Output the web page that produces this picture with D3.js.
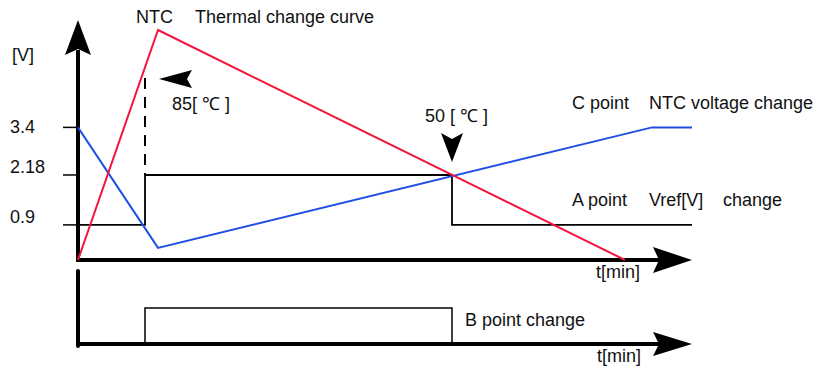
<!DOCTYPE html>
<html>
<head>
<meta charset="utf-8">
<script src="https://cdn.jsdelivr.net/npm/d3@7"></script>
<style>
  html, body { margin: 0; padding: 0; background: #fff; }
  svg text { font-family: "Liberation Sans", Arial, sans-serif; font-size: 18px; fill: #111; }
</style>
</head>
<body>
<svg id="chart" width="820" height="369"></svg>
<script>
// time in minutes, voltage in V, temperature in deg C
var voltTicks = [3.4, 2.18, 0.9];
var voltTickLabels = ['3.4', '2.18', '0.9'];

var ntcTemp = [[0, 0], [8.0, 135], [54.7, 0]];                 // red curve
var ntcVolt = [[0, 3.4], [8.0, 0.31], [57.4, 3.4], [61.4, 3.4]]; // C point
var vrefA = [[0, 0.9], [6.7, 0.9], [6.7, 2.18], [37.4, 2.18], [37.4, 0.9], [61.4, 0.9]];
var pointB = [[0, 0], [6.7, 0], [6.7, 1], [37.4, 1], [37.4, 0]];

var switchOn = 6.7;   // 85 C trip
var switchOff = 37.4; // 50 C trip

var svg = d3.select('#chart');
var red = '#f0173f';
var blue = '#1f4fe3';

var x = d3.scaleLinear().domain([0, 61.4]).range([78, 692]);
var yV = d3.scaleLinear().domain([0, 6]).range([260, 26]);
var yT = d3.scaleLinear().domain([0, 135]).range([260, 30]);
var yB = d3.scaleLinear().domain([0, 1]).range([344, 308]);

function arrowUp(cx, tip, back, half, notch) {
    return 'M' + cx + ',' + tip + 'L' + (cx + half) + ',' + back +
        'L' + cx + ',' + notch + 'L' + (cx - half) + ',' + back + 'Z';
}
function arrowRight(cy, tip, back, half, notch) {
    return 'M' + tip + ',' + cy + 'L' + back + ',' + (cy - half) +
        'L' + notch + ',' + cy + 'L' + back + ',' + (cy + half) + 'Z';
}

// top axes
svg.append('line')
    .attr('x1', x(0)).attr('x2', x(0))
    .attr('y1', yV(0) + 2).attr('y2', 50)
    .attr('stroke', '#000').attr('stroke-width', 4);
svg.append('path').attr('d', arrowUp(x(0), 20, 55, 13, 49)).attr('fill', '#000');
svg.append('line')
    .attr('x1', x(0) - 2).attr('x2', 660)
    .attr('y1', yV(0)).attr('y2', yV(0))
    .attr('stroke', '#000').attr('stroke-width', 4);
svg.append('path').attr('d', arrowRight(yV(0), x(61.4), 653, 13, 659)).attr('fill', '#000');

// y ticks
svg.selectAll('.vtick').data(voltTicks).enter().append('line')
    .attr('x1', 63).attr('x2', x(0))
    .attr('y1', function(d) { return yV(d); })
    .attr('y2', function(d) { return yV(d); })
    .attr('stroke', '#000').attr('stroke-width', 1.5);
svg.selectAll('.vlabel').data(voltTicks).enter().append('text')
    .attr('x', 10)
    .attr('y', function(d, i) { return yV(d) + (i === 0 ? 6 : -2); })
    .text(function(d, i) { return voltTickLabels[i]; });
svg.append('text').attr('x', 12).attr('y', 61).text('[V]');
svg.append('text').attr('x', 596).attr('y', 278).text('t[min]');

// dashed 85 C marker
svg.append('line')
    .attr('x1', x(switchOn)).attr('x2', x(switchOn))
    .attr('y1', 78).attr('y2', yV(2.18))
    .attr('stroke', '#000').attr('stroke-width', 2)
    .attr('stroke-dasharray', '11,8');

var line = d3.line()
    .x(function(d) { return x(d[0]); })
    .y(function(d) { return yV(d[1]); });

svg.append('path').datum(vrefA).attr('d', line)
    .attr('fill', 'none').attr('stroke', '#000').attr('stroke-width', 1.8);

svg.append('path').datum(ntcVolt).attr('d', line)
    .attr('fill', 'none').attr('stroke', blue).attr('stroke-width', 2);

svg.append('path').datum(ntcTemp)
    .attr('d', d3.line().x(function(d) { return x(d[0]); }).y(function(d) { return yT(d[1]); }))
    .attr('fill', 'none').attr('stroke', red).attr('stroke-width', 2);

// annotations
svg.append('path')
    .attr('d', 'M159,79L192,70L187,79L192,88Z').attr('fill', '#000');
svg.append('text').attr('x', 172).attr('y', 110).text('85[ \u2103 ]');

var cx = x(switchOff);
svg.append('path')
    .attr('d', 'M' + cx + ',' + 162 + 'L' + (cx + 11) + ',133L' + cx + ',139L' + (cx - 11) + ',133Z')
    .attr('fill', '#000');
svg.append('text').attr('x', 425).attr('y', 122).text('50 [ \u2103 ]');

svg.append('text').attr('x', 136).attr('y', 23).text('NTC');
svg.append('text').attr('x', 195).attr('y', 23).text('Thermal change curve');
svg.append('text').attr('x', 572).attr('y', 109).text('C point');
svg.append('text').attr('x', 649).attr('y', 109).text('NTC voltage change');
svg.append('text').attr('x', 572).attr('y', 206).text('A point');
svg.append('text').attr('x', 649).attr('y', 206).text('Vref[V]');
svg.append('text').attr('x', 723).attr('y', 206).text('change');

// bottom chart
svg.append('line')
    .attr('x1', x(0)).attr('x2', x(0))
    .attr('y1', 271).attr('y2', yB(0) + 2)
    .attr('stroke', '#000').attr('stroke-width', 4).attr('stroke-linecap', 'round');
svg.append('path').datum(pointB)
    .attr('d', d3.line().x(function(d) { return x(d[0]); }).y(function(d) { return yB(d[1]); }))
    .attr('fill', 'none').attr('stroke', '#000').attr('stroke-width', 1.5);
svg.append('line')
    .attr('x1', x(0) - 2).attr('x2', 660)
    .attr('y1', yB(0)).attr('y2', yB(0))
    .attr('stroke', '#000').attr('stroke-width', 4);
svg.append('path').attr('d', arrowRight(yB(0), x(61.4), 653, 12, 659)).attr('fill', '#000');
svg.append('text').attr('x', 465).attr('y', 326).text('B point change');
svg.append('text').attr('x', 597).attr('y', 362).text('t[min]');
</script>
</body>
</html>
